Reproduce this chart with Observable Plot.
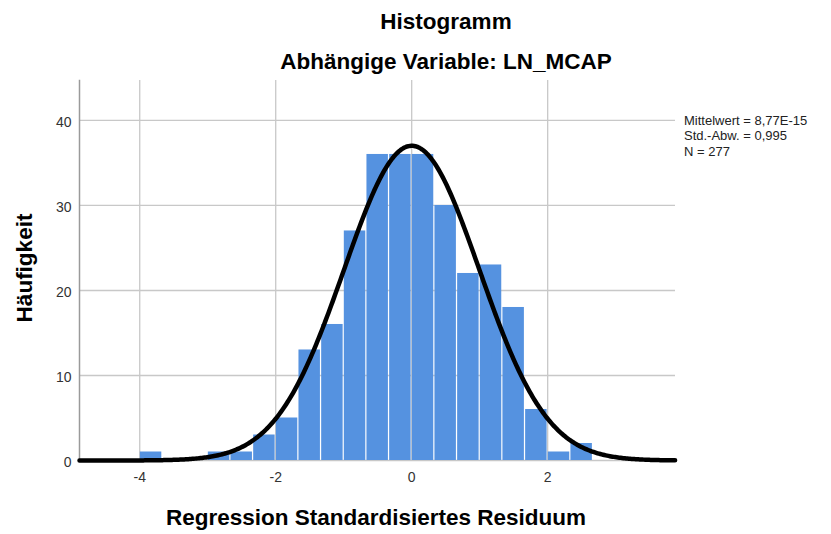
<!DOCTYPE html>
<html>
<head>
<meta charset="utf-8">
<script src="https://cdn.jsdelivr.net/npm/d3@7"></script>
<script src="https://cdn.jsdelivr.net/npm/@observablehq/plot@0.6"></script>
<style>
  html, body { margin: 0; padding: 0; background: #fff; }
  #chart svg { display: block; }
</style>
</head>
<body>
<div id="chart"></div>
<script>
// Histogram bins (lower bounds, bin width 1/3) and counts
const binLower = [-4.000, -3.667, -3.333, -3.000, -2.667, -2.333, -2.000, -1.667, -1.333, -1.000,
                  -0.667, -0.333, 0.000, 0.333, 0.667, 1.000, 1.333, 1.667, 2.000, 2.333];
const counts   = [1, 0, 0, 1, 1, 3, 5, 13, 16, 27, 36, 36, 36, 30, 22, 23, 18, 6, 1, 2];
const binWidth = [1 / 3];

// Summary statistics shown in the legend
const statLabels = ["Mittelwert = 8,77E-15", "Std.-Abw. = 0,995", "N = 277"];
const statValues = [8.77e-15, 0.995, 277]; // mean, sd, N

const xTicks = [-4, -2, 0, 2];
const yTicks = [0, 10, 20, 30, 40];
const xDomain = [-4.886, 3.88];
const yDomain = [0, 44.7];

const title = "Histogramm";
const subtitle = "Abhängige Variable: LN_MCAP";
const xLabel = "Regression Standardisiertes Residuum";
const yLabel = "Häufigkeit";

const bars = binLower.map((lo, i) => ({lo, hi: lo + binWidth[0], count: counts[i]}));

// Fitted normal curve from the stated mean, sd and N (scaled to bin width)
const [mu, sd, n] = statValues;
const curve = d3.range(xDomain[0], xDomain[1] + 0.001, 0.02).map(x => ({
  x,
  y: n * binWidth[0] * Math.exp(-0.5 * ((x - mu) / sd) ** 2) / (sd * Math.sqrt(2 * Math.PI))
}));

const font = "'Liberation Sans', Arial, Helvetica, sans-serif";

const chart = Plot.plot({
  width: 831,
  height: 534,
  marginLeft: 79,
  marginRight: 156,
  marginTop: 80,
  marginBottom: 74,
  style: {fontFamily: font, fontSize: "14px", color: "#333", background: "#fff"},
  x: {domain: xDomain, ticks: xTicks},
  y: {domain: yDomain, ticks: yTicks},
  marks: [
    Plot.gridX(xTicks, {stroke: "#c8c8c8", strokeOpacity: 1, strokeWidth: 1.3}),
    Plot.gridY(yTicks, {stroke: "#c8c8c8", strokeOpacity: 1, strokeWidth: 1.3}),
    Plot.rectY(bars, {x1: "lo", x2: "hi", y: "count", fill: "#5592e0", insetLeft: 0.6, insetRight: 0.6}),
    Plot.frame({anchor: "left", stroke: "#9a9a9a", strokeWidth: 1.5}),
    Plot.line(curve, {x: "x", y: "y", stroke: "#000", strokeWidth: 4.5, strokeLinejoin: "round"}),
    Plot.axisX(xTicks, {tickSize: 0, tickPadding: 12, label: null, fontSize: 14, fill: "#333",
                        tickFormat: d => d < 0 ? "-" + Math.abs(d) : String(d)}),
    Plot.axisY(yTicks, {tickSize: 0, tickPadding: 8, label: null, fontSize: 14, fill: "#333", dy: 2})
  ]
});

document.getElementById("chart").appendChild(chart);

const svg = d3.select(chart);
const addText = (txt, x, y, opts = {}) => {
  const t = svg.append("text")
    .attr("x", x).attr("y", y)
    .attr("font-family", font)
    .attr("font-size", opts.size || 22.5)
    .attr("font-weight", opts.weight || "bold")
    .attr("fill", opts.fill || "#000")
    .attr("text-anchor", opts.anchor || "middle")
    .text(txt);
  if (opts.rotate) t.attr("transform", `rotate(-90 ${x} ${y})`);
  return t;
};

addText(title, 446, 29);
addText(subtitle, 446, 68.5);
addText(xLabel, 376, 525);
addText(yLabel, 32, 268, {rotate: true});

const legendY = [124.5, 140, 155.5];
statLabels.forEach((s, i) => addText(s, 684, legendY[i], {size: 13, weight: "normal", anchor: "start", fill: "#222"}));
</script>
</body>
</html>
